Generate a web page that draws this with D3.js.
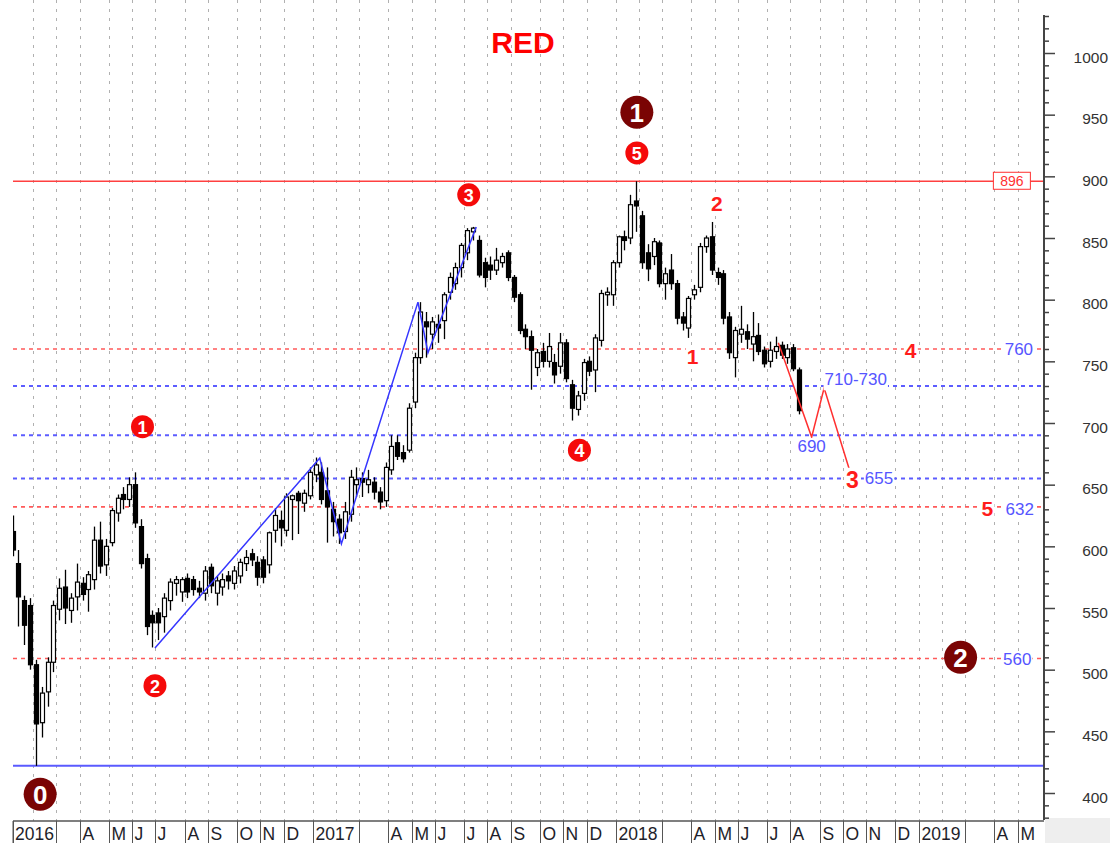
<!DOCTYPE html>
<html>
<head>
<meta charset="utf-8">
<script src="https://cdn.jsdelivr.net/npm/d3@7"></script>
<style>
  body { margin: 0; background: #fff; }
  svg { display: block; font-family: Arial, "Liberation Sans", sans-serif; }
</style>
</head>
<body>
<svg id="chart" width="1110" height="843"></svg>
<script>
// weekly bars, first one dated Fri 8 Jan 2016
var firstWeek = new Date(2016, 0, 8);

var openP = [612,586,556,552,504,457,482,506,549,567,548,559,570,565,573,605,585,603,627,642,
  638,650,616,590,544,546,543,556,570,563,574,573,566,562,583,562,567,576,570,576,
  586,594,587,589,585,613,621,613,638,643,635,641,658,660,645,630,622,612,626,650,
  655,650,652,644,637,662,684,676,678,717,753,782,772,780,783,806,813,826,838,855,
  848,830,828,824,830,838,818,804,776,770,745,758,750,749,746,765,731,711,724,750,
  743,767,804,804,830,851,850,880,868,838,835,846,813,824,813,786,777,804,810,843,
  851,822,821,786,753,772,774,764,771,759,750,758,763,753,761,743];
var highP = [625,597,560,558,508,486,510,556,574,581,562,586,575,580,616,620,606,631,642,648,
  656,660,622,594,548,550,562,574,576,575,578,576,572,584,586,576,578,580,584,590,
  597,598,592,592,612,631,629,643,642,645,646,664,672,668,664,636,626,636,662,664,
  660,662,656,648,668,690,690,682,716,757,798,790,786,788,806,822,830,846,858,859,
  852,834,835,842,838,840,820,806,780,775,760,765,773,756,773,768,735,726,752,754,
  772,808,810,832,852,856,885,896,872,845,850,848,826,837,816,790,803,812,846,852,
  863,826,824,790,778,795,780,790,781,762,766,770,766,764,764,745];
var lowP = [592,535,520,500,422,445,470,498,540,537,538,548,556,547,565,578,576,600,620,630,
  632,615,582,528,518,524,530,548,560,555,558,560,558,556,562,552,560,565,565,570,
  580,584,568,570,578,603,600,608,605,610,628,638,652,634,603,608,602,606,620,640,
  640,643,638,630,632,658,670,668,676,712,748,753,760,765,768,800,808,818,832,848,
  818,810,816,820,826,815,798,772,760,727,738,745,745,732,740,733,702,706,718,738,
  725,762,795,795,826,840,845,855,825,815,828,810,800,808,780,775,769,800,806,838,
  820,812,780,752,737,765,760,750,755,745,745,752,752,748,742,707];
var closeP = [597,559,536,504,456,481,506,552,566,550,558,571,561,577,605,584,600,629,639,638,
  650,619,586,535,538,538,558,571,573,573,563,565,563,580,568,572,573,572,580,587,
  591,589,575,575,611,625,615,640,641,637,643,660,666,638,632,620,611,628,656,654,
  652,654,644,636,664,681,673,671,712,753,790,778,782,777,804,818,826,844,856,858,
  820,818,824,832,835,818,802,775,770,759,757,750,762,739,765,736,712,722,749,742,
  769,805,806,830,851,848,877,876,830,825,847,813,821,813,785,781,801,808,843,850,
  824,818,785,757,775,776,768,770,758,748,759,762,755,760,744,710];

// wave counts drawn over the bars
var blueWaveDates = ["2016-06-27","2017-01-11","2017-02-06","2017-05-09","2017-05-21","2017-07-18"];
var blueWaveValues = [517.6, 671.6, 602, 798, 757, 859];
var redPathDates = ["2018-07-16","2018-08-25","2018-09-09","2018-10-15"];
var redPathValues = [765, 688.6, 728.4, 650];

// horizontal levels
var redDashLevels = [760, 632, 509];
var blueDashLevels = [730, 690, 655];
var resistanceLevel = 896;
var supportLevel = 422;

// circled wave numbers
var circleLabels = ["0","1","2","3","4","5","1","2"];
var circleDates = ["2016-02-10","2016-06-12","2016-06-27","2017-07-09","2017-11-19","2018-01-27","2018-01-27","2019-02-20"];
var circleValues = [399, 697, 487, 885, 678, 919, 952, 510];
var circleBig = [true, false, false, false, false, false, true, true];

// plain red wave numbers
var redTextLabels = ["1","2","3","4","5"];
var redTextDates = ["2018-04-04","2018-05-03","2018-10-13","2018-12-22","2019-03-24"];
var redTextValues = [754, 878, 654, 759, 631];
var redTextSizes = [21, 21, 23, 21, 21];

// blue price targets
var blueTextLabels = ["760","710-730","690","655","632","560"];
var blueTextDates = ["2019-05-01","2018-10-17","2018-08-25","2018-11-14","2019-05-02","2019-04-29"];
var blueTextValues = [760, 735, 681, 655, 630, 508];

var monthLetters = ["J","F","M","A","M","J","J","A","S","O","N","D"];
var yLabelValues = [400,450,500,550,600,650,700,750,800,850,900,950,1000];

var plotLeft = 13, plotRight = 1044, plotBottom = 821;
var parse = d3.timeParse("%Y-%m-%d");

var x = d3.scaleTime().domain([new Date(2016,0,6), new Date(2019,4,30)]).range([11, 1043]);
var y = d3.scaleLinear().domain([400, 1000]).range([793, 53]);

var svg = d3.select("#chart");
svg.append("defs").append("clipPath").attr("id", "plot")
  .append("rect").attr("x", plotLeft).attr("y", 0)
  .attr("width", plotRight - plotLeft).attr("height", plotBottom);

svg.append("rect").attr("x", plotRight + 1).attr("y", 818).attr("width", 70).attr("height", 30).attr("fill", "#eeeeee");

// month separators sit half a week before the first Friday bar of the month
var months = d3.timeMonth.range(new Date(2016,0,1), new Date(2019,5,1));
function sepX(m) { return x(d3.timeHour.offset(d3.timeFriday.ceil(m), -84)); }

var grid = svg.append("g");
months.forEach(function(m) {
  var xs = Math.round(sepX(m)) + 0.5;
  if (xs > plotLeft && xs < plotRight) {
    grid.append("line").attr("x1", xs).attr("x2", xs).attr("y1", 0).attr("y2", plotBottom)
      .attr("stroke", "#b0b0b0").attr("stroke-width", 1).attr("stroke-dasharray", "3,6");
  }
});

// levels
var levels = svg.append("g");
redDashLevels.forEach(function(v) {
  levels.append("line").attr("x1", plotLeft).attr("x2", plotRight).attr("y1", y(v)).attr("y2", y(v))
    .attr("stroke", "#ff5a5a").attr("stroke-width", 1.6).attr("stroke-dasharray", "4,4");
});
blueDashLevels.forEach(function(v) {
  levels.append("line").attr("x1", plotLeft).attr("x2", plotRight).attr("y1", y(v)).attr("y2", y(v))
    .attr("stroke", "#5c5cff").attr("stroke-width", 2).attr("stroke-dasharray", "4,4");
});
levels.append("line").attr("x1", plotLeft).attr("x2", plotRight).attr("y1", y(resistanceLevel)).attr("y2", y(resistanceLevel))
  .attr("stroke", "#ff4040").attr("stroke-width", 1.5);
levels.append("line").attr("x1", plotLeft).attr("x2", plotRight).attr("y1", y(supportLevel)).attr("y2", y(supportLevel))
  .attr("stroke", "#5a5aff").attr("stroke-width", 2);

// candles
function weekDate(i) { return d3.timeFriday.offset(firstWeek, i); }
var idx = d3.range(closeP.length);
var bars = svg.append("g").attr("clip-path", "url(#plot)");
bars.selectAll("line.wick").data(idx).enter().append("line")
  .attr("x1", function(i) { return Math.round(x(weekDate(i))) + 0.5; })
  .attr("x2", function(i) { return Math.round(x(weekDate(i))) + 0.5; })
  .attr("y1", function(i) { return y(highP[i]); })
  .attr("y2", function(i) { return y(lowP[i]); })
  .attr("stroke", "#000").attr("stroke-width", 1.3);
bars.selectAll("rect.body").data(idx).enter().append("rect")
  .attr("x", function(i) { return Math.round(x(weekDate(i))) - 1.5; })
  .attr("width", 4)
  .attr("y", function(i) { return y(Math.max(openP[i], closeP[i])); })
  .attr("height", function(i) { return Math.max(1, Math.abs(y(openP[i]) - y(closeP[i]))); })
  .attr("fill", function(i) { return closeP[i] >= openP[i] ? "#fff" : "#000"; })
  .attr("stroke", "#000").attr("stroke-width", 1.2);

// wave paths
var line = d3.line().x(function(d) { return x(parse(d[0])); }).y(function(d) { return y(d[1]); });
svg.append("path").datum(d3.zip(blueWaveDates, blueWaveValues)).attr("d", line)
  .attr("fill", "none").attr("stroke", "#3535ff").attr("stroke-width", 1.5);
svg.append("path").datum(d3.zip(redPathDates, redPathValues)).attr("d", line)
  .attr("fill", "none").attr("stroke", "#ff3030").attr("stroke-width", 1.5);

// text with white box behind it
function boxedText(g, str, cx, cy, color, size, weight) {
  var bg = g.append("rect").attr("fill", "#fff");
  var t = g.append("text").attr("x", cx).attr("y", cy).attr("text-anchor", "middle")
    .attr("dominant-baseline", "central").attr("fill", color)
    .attr("font-size", size).attr("font-weight", weight).text(str);
  var b = t.node().getBBox();
  bg.attr("x", b.x - 1).attr("y", b.y + 1).attr("width", b.width + 2).attr("height", b.height);
}

var notes = svg.append("g");
blueTextLabels.forEach(function(s, i) {
  boxedText(notes, s, x(parse(blueTextDates[i])), y(blueTextValues[i]), "#5555ff", 17, "normal");
});
redTextLabels.forEach(function(s, i) {
  boxedText(notes, s, x(parse(redTextDates[i])), y(redTextValues[i]), "#ff1c1c", redTextSizes[i], "bold");
});

// 896 box
var bx = x(parse("2019-04-22")), by = y(resistanceLevel);
notes.append("rect").attr("x", bx - 18).attr("y", by - 9).attr("width", 37).attr("height", 17)
  .attr("fill", "#fff").attr("stroke", "#ff3030").attr("stroke-width", 1);
notes.append("text").attr("x", bx + 0.5).attr("y", by).attr("text-anchor", "middle").attr("dominant-baseline", "central")
  .attr("fill", "#ff3030").attr("font-size", 14).text(resistanceLevel);

circleLabels.forEach(function(s, i) {
  var cx = x(parse(circleDates[i])), cy = y(circleValues[i]);
  notes.append("circle").attr("cx", cx).attr("cy", cy).attr("r", circleBig[i] ? 16.5 : 11.5)
    .attr("fill", circleBig[i] ? "#7a0404" : "#f50a0a");
  notes.append("text").attr("x", cx).attr("y", cy + 1).attr("text-anchor", "middle").attr("dominant-baseline", "central")
    .attr("fill", "#fff").attr("font-weight", "bold").attr("font-size", circleBig[i] ? 26 : 18).text(s);
});

// title
svg.append("text").attr("x", 523).attr("y", 53).attr("text-anchor", "middle")
  .attr("fill", "#ff0000").attr("font-weight", "bold").attr("font-size", 30).text("RED");

// price axis
var yAxis = d3.axisRight(y).tickValues(d3.range(380, 1031, 10))
  .tickFormat(function(v) { return yLabelValues.indexOf(v) >= 0 ? v : ""; });
var ag = svg.append("g").attr("transform", "translate(" + plotRight + ",0)").call(yAxis);
ag.select(".domain").remove();
ag.selectAll(".tick line").attr("x2", function(v) { return v % 50 === 0 ? 11 : 5; })
  .attr("stroke", "#444").attr("stroke-width", 1.5);
ag.selectAll(".tick text").attr("x", 64).attr("text-anchor", "end").attr("dy", "9")
  .attr("fill", "#333").attr("font-size", 15.5).attr("font-family", "Arial, 'Liberation Sans', sans-serif");
ag.append("line").attr("x1", 0).attr("x2", 0).attr("y1", 15).attr("y2", 820)
  .attr("stroke", "#444").attr("stroke-width", 2);

// time axis row
var row = svg.append("g");
row.append("line").attr("x1", plotLeft).attr("x2", plotRight).attr("y1", plotBottom).attr("y2", plotBottom)
  .attr("stroke", "#555").attr("stroke-width", 1.5);
row.append("line").attr("x1", plotLeft + 0.5).attr("x2", plotLeft + 0.5).attr("y1", plotBottom).attr("y2", 843)
  .attr("stroke", "#555");
months.forEach(function(m) {
  if (m.getMonth() === 1) return;
  var xs = Math.max(plotLeft, Math.round(sepX(m)) + 0.5);
  if (xs > plotRight) return;
  row.append("line").attr("x1", xs).attr("x2", xs).attr("y1", plotBottom).attr("y2", 843)
    .attr("stroke", "#555").attr("stroke-width", 1);
  var label = m.getMonth() === 0 ? String(m.getFullYear()) : (m.getMonth() === 2 ? "" : monthLetters[m.getMonth()]);
  row.append("text").attr("x", xs + 2).attr("y", 840).attr("fill", "#1e1e2a")
    .attr("font-size", 17.5).text(label);
});
</script>
</body>
</html>
